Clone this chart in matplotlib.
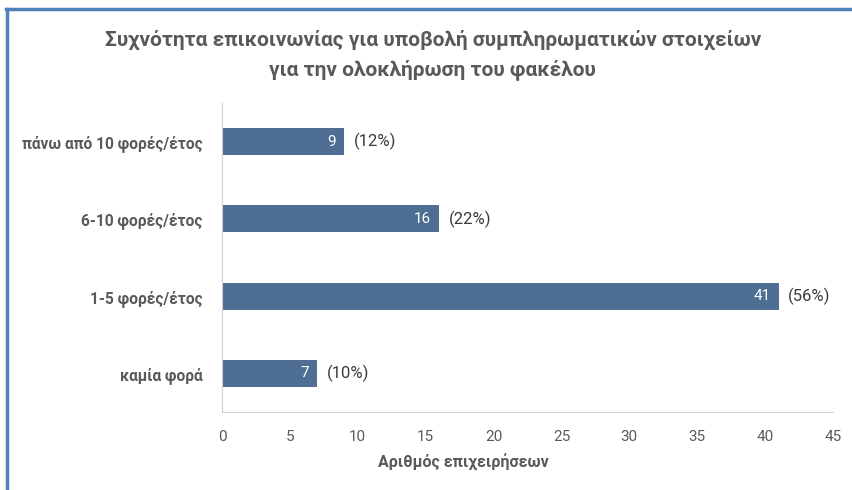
import matplotlib
matplotlib.use("Agg")
import matplotlib.pyplot as plt
from matplotlib.lines import Line2D

plt.rcParams['font.family'] = ['Roboto', 'DejaVu Sans']

# categories listed bottom to top
categories = ['καμία φορά', '1-5 φορές/έτος', '6-10 φορές/έτος', 'πάνω από 10 φορές/έτος']
counts = [7, 41, 16, 9]
shares = ['(10%)', '(56%)', '(22%)', '(12%)']
xticks = [0, 5, 10, 15, 20, 25, 30, 35, 40, 45]

bar_color = '#4E6E93'
text_gray = '#595959'

fig = plt.figure(figsize=(8.52, 4.90), dpi=100)
ax = fig.add_axes([222/852, 1 - 412/490, (833-222)/852, (412-103)/490])

pos = list(range(len(categories)))
bars = ax.barh(pos, counts, height=0.35, color=bar_color)

for b, n, s in zip(bars, counts, shares):
    y = b.get_y() + b.get_height() / 2
    ax.text(b.get_width() - 0.6, y, str(n), ha='right', va='center',
            color='white', fontsize=11)
    ax.text(b.get_width() + 0.7, y, s, ha='left', va='center',
            color='#3a3a3a', fontsize=12)

ax.set_xlim(0, 45)
ax.set_ylim(-0.5, 3.5)
ax.set_xticks(xticks)
ax.set_yticks(pos)
ax.set_yticklabels(categories, fontweight='bold', fontsize=11.2)
ax.tick_params(axis='both', length=0, colors=text_gray)
ax.tick_params(axis='x', pad=13, labelsize=11)
ax.tick_params(axis='y', pad=14)

for side in ['top', 'right']:
    ax.spines[side].set_visible(False)
for side in ['left', 'bottom']:
    ax.spines[side].set_color('#d0d0d0')

fig.text(463/852, 1 - 462/490, 'Αριθμός επιχειρήσεων', ha='center', va='center',
         fontsize=11.5, fontweight='bold', color=text_gray)

fig.text(0.508, 1 - 40/490, 'Συχνότητα επικοινωνίας για υποβολή συμπληρωματικών στοιχείων',
         ha='center', va='center', fontsize=15, fontweight='bold', color=text_gray)
fig.text(0.508, 1 - 70/490, 'για την ολοκλήρωση του φακέλου',
         ha='center', va='center', fontsize=15, fontweight='bold', color=text_gray)

# blue frame along the top and left edges
fig.add_artist(Line2D([0.007, 1], [1 - 9/490, 1 - 9/490], color='#4F81BD', lw=2.5,
                      transform=fig.transFigure))
fig.add_artist(Line2D([7/852, 7/852], [0, 1 - 9/490], color='#4F81BD', lw=2.5,
                      transform=fig.transFigure))

fig.savefig('out.png', dpi=100, facecolor='white')
